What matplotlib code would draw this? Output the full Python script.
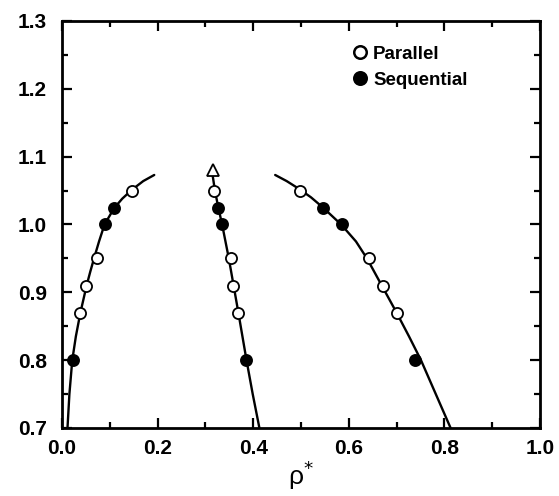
import matplotlib
matplotlib.use("Agg")
import matplotlib.pyplot as plt
from matplotlib.lines import Line2D
from matplotlib.ticker import MultipleLocator, FormatStrFormatter

plt.rcParams['font.family'] = ['Liberation Sans', 'DejaVu Sans']

# Coexistence curves
gas_curve_x = [0.0115, 0.0155, 0.0215, 0.029, 0.0385, 0.0515, 0.059, 0.067, 0.0775, 0.089,
               0.109, 0.126, 0.146, 0.170, 0.193]
gas_curve_y = [0.70, 0.75, 0.80, 0.835, 0.87, 0.91, 0.93, 0.95, 0.975, 1.00,
               1.024, 1.038, 1.051, 1.064, 1.073]

liq_curve_x = [0.315, 0.320, 0.327, 0.335, 0.349, 0.359, 0.369, 0.386, 0.399, 0.413]
liq_curve_y = [1.073, 1.05, 1.025, 1.00, 0.95, 0.91, 0.87, 0.80, 0.75, 0.70]

sol_curve_x = [0.446, 0.470, 0.497, 0.521, 0.546, 0.584, 0.615, 0.638, 0.669, 0.700,
               0.726, 0.751, 0.782, 0.813]
sol_curve_y = [1.073, 1.064, 1.052, 1.04, 1.025, 1.00, 0.975, 0.95, 0.91, 0.87,
               0.835, 0.80, 0.75, 0.70]

# Simulation points
parallel_x = [0.146, 0.073, 0.050, 0.038, 0.319, 0.353, 0.358, 0.369, 0.498, 0.643, 0.671, 0.701]
parallel_y = [1.05, 0.95, 0.91, 0.87, 1.05, 0.95, 0.91, 0.87, 1.05, 0.95, 0.91, 0.87]

sequential_x = [0.022, 0.089, 0.109, 0.326, 0.335, 0.384, 0.545, 0.585, 0.739]
sequential_y = [0.80, 1.00, 1.025, 1.025, 1.00, 0.80, 1.025, 1.00, 0.80]

triangle_x = [0.315]
triangle_y = [1.08]

fig = plt.figure(figsize=(5.59, 4.96), dpi=100)
ax = fig.add_axes([0.1109, 0.1371, 0.966 - 0.1109, 0.9577 - 0.1371])

for cx, cy in [(gas_curve_x, gas_curve_y), (liq_curve_x, liq_curve_y), (sol_curve_x, sol_curve_y)]:
    ax.plot(cx, cy, color='black', lw=1.7, zorder=2, solid_capstyle='round', solid_joinstyle='round')

ax.plot(parallel_x, parallel_y, 'o', ms=8, mfc='white', mec='black', mew=1.3, zorder=3, ls='none')
ax.plot(sequential_x, sequential_y, 'o', ms=8, mfc='black', mec='black', mew=1.3, zorder=3, ls='none')
ax.plot(triangle_x, triangle_y, '^', ms=8, mfc='white', mec='black', mew=1.3, zorder=3, ls='none')

ax.set_xlim(0.0, 1.0)
ax.set_ylim(0.7, 1.3)
ax.xaxis.set_major_locator(MultipleLocator(0.2))
ax.xaxis.set_minor_locator(MultipleLocator(0.1))
ax.yaxis.set_major_locator(MultipleLocator(0.1))
ax.yaxis.set_minor_locator(MultipleLocator(0.05))
ax.xaxis.set_major_formatter(FormatStrFormatter('%.1f'))
ax.yaxis.set_major_formatter(FormatStrFormatter('%.1f'))

ax.tick_params(which='both', direction='in', top=True, right=True, width=1.6, labelsize=15)
ax.tick_params(axis='x', which='major', pad=8)
ax.tick_params(axis='y', which='major', pad=11)
ax.tick_params(which='major', length=7)
ax.tick_params(which='minor', length=4.5)
for lab in ax.get_xticklabels() + ax.get_yticklabels():
    lab.set_fontweight('bold')
for s in ax.spines.values():
    s.set_linewidth(2)

ax.set_xlabel('ρ$^{*}$', fontsize=19, labelpad=0)

handles = [
    Line2D([], [], marker='o', ls='none', ms=9, mfc='white', mec='black', mew=1.8),
    Line2D([], [], marker='o', ls='none', ms=9, mfc='black', mec='black', mew=1.8),
]
leg = ax.legend(handles, ['Parallel', 'Sequential'], loc='upper left', bbox_to_anchor=(0.59, 0.962),
                frameon=False, handlelength=0.7, handletextpad=0.35, labelspacing=0.45,
                prop={'size': 13.5, 'weight': 'bold'}, borderpad=0)

fig.savefig('out.png', dpi=100)
